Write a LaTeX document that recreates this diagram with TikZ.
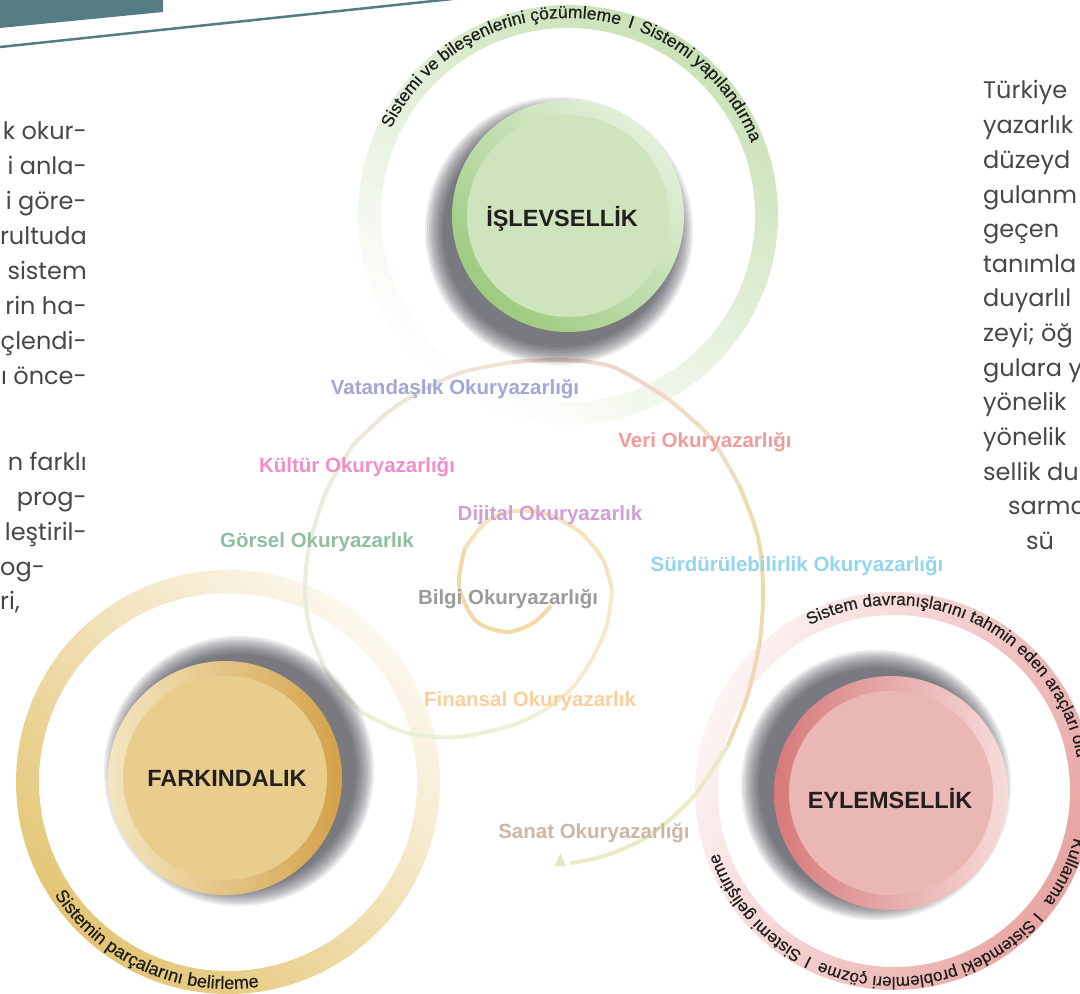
\documentclass[tikz,border=0pt]{standalone}
\usepackage{fontspec}
\setmainfont{Liberation Sans}
\newfontfamily\bodyfont{Poppins}
\newfontfamily\ringfam{Liberation Sans}[FakeBold=0.4]
\usetikzlibrary{decorations.text}

\definecolor{bannerteal}{HTML}{557B84}
\definecolor{bodytext}{HTML}{474747}
\definecolor{ringtext}{HTML}{1E1E1E}
\definecolor{titletext}{HTML}{231F20}
\definecolor{gRingA}{HTML}{C9E1B6}
\definecolor{gRingM}{HTML}{E1EED6}
\definecolor{gRingB}{HTML}{FFFFFF}
\definecolor{yRingA}{HTML}{E4C574}
\definecolor{yRingM}{HTML}{F2E3BC}
\definecolor{yRingB}{HTML}{FCF8EE}
\definecolor{rRingA}{HTML}{E7A3A1}
\definecolor{rRingM}{HTML}{F3D2D0}
\definecolor{rRingB}{HTML}{FDF4F4}
\definecolor{gDiscL}{HTML}{E3F0DA}
\definecolor{gDiscD}{HTML}{9DCA7F}
\definecolor{gDiscIn}{HTML}{CDE4BC}
\definecolor{yDiscL}{HTML}{F4E6C0}
\definecolor{yDiscD}{HTML}{D3A149}
\definecolor{yDiscIn}{HTML}{E8CD8C}
\definecolor{rDiscD}{HTML}{D6797A}
\definecolor{rDiscL}{HTML}{F6DCDA}
\definecolor{rDiscIn}{HTML}{EBB7B4}
\definecolor{shadowc}{HTML}{2A2A36}
\definecolor{cVat}{HTML}{A4A6D5}
\definecolor{cVeri}{HTML}{F39A9A}
\definecolor{cKul}{HTML}{F28DC8}
\definecolor{cDij}{HTML}{D09FD6}
\definecolor{cGor}{HTML}{8FBF9E}
\definecolor{cSur}{HTML}{93D4EE}
\definecolor{cBil}{HTML}{9B9B9B}
\definecolor{cFin}{HTML}{F9CF9B}
\definecolor{cSan}{HTML}{CDB6A6}
\definecolor{spA}{HTML}{F2D9A7}
\definecolor{spB}{HTML}{F6E2BB}
\definecolor{spC}{HTML}{F7E9CC}
\definecolor{spD}{HTML}{EDF0D8}
\definecolor{spE}{HTML}{E7EFDB}
\definecolor{spF}{HTML}{EBE6D6}
\definecolor{spG}{HTML}{EFD6CD}
\definecolor{spH}{HTML}{EFDCC2}
\definecolor{spI}{HTML}{EEDAAE}
\definecolor{spJ}{HTML}{EAE9C8}
\definecolor{arrowc}{HTML}{E2E8C6}

\newcommand{\ringfont}{\ringfam\fontsize{17.5}{17.5}\selectfont}
\newcommand{\ringfontF}{\ringfam\fontsize{18}{18}\selectfont}
\newcommand{\ringfontE}{\ringfam\fontsize{17}{17}\selectfont}
\newcommand{\lblfont}{\fontsize{20.5}{24}\selectfont\bfseries}
\newcommand{\ttlfont}{\fontsize{23.5}{28}\selectfont\bfseries}
\newcommand{\bodyfnt}{\bodyfont\fontsize{24}{28}\selectfont}

\begin{document}
\begin{tikzpicture}[x=1pt, y=-1pt,
  spiralline/.style={line width=4pt, line cap=round, line join=round},
  lbl/.style={font=\lblfont, inner sep=0pt, anchor=base},
  ttl/.style={font=\ttlfont, text=titletext, inner sep=0pt, anchor=base},
  bodyR/.style={font=\bodyfnt, text=bodytext, inner sep=0pt, anchor=base east},
  bodyL/.style={font=\bodyfnt, text=bodytext, inner sep=0pt, anchor=base west},
  ringtxt/.style={decorate, decoration={text along path, text color=ringtext, text={|\ringfont|#1}}},
  ringtxtF/.style={decorate, decoration={text along path, text color=ringtext, text={|\ringfontF|#1}}},
  ringtxtE/.style={decorate, decoration={text along path, text color=ringtext, text={|\ringfontE|#1}}},
]
\useasboundingbox (0,0) rectangle (1080,994);

% centres
\coordinate (cI) at (568,215);
\coordinate (cF) at (228,782);
\coordinate (cE) at (894,791);
\coordinate (dI) at (568,216);
\coordinate (dF) at (225,778);
\coordinate (dE) at (891,793);
\coordinate (sI) at (559,231);
\coordinate (sF) at (239,771);
\coordinate (sE) at (876,785);

% outer rings
\path[even odd rule, top color=gRingA, middle color=gRingM, bottom color=gRingB, shading angle=-35]
  (cI) circle[radius=210] (cI) circle[radius=187];
\path[even odd rule, top color=yRingA, middle color=yRingM, bottom color=yRingB, shading angle=135]
  (cF) circle[radius=212] (cF) circle[radius=189];
\path[even odd rule, top color=rRingA, middle color=rRingM, bottom color=rRingB, shading angle=-115]
  (cE) circle[radius=199] (cE) circle[radius=176];

% spiral
\draw[spiralline, spA] plot[smooth] coordinates {(550,607) (533,623) (507,632) (476,621) (459,586) (465,548)};
\draw[spiralline, spB] plot[smooth] coordinates {(465,548) (487,521) (515,511) (547,514) (580,532) (603,560) (612,590)};
\draw[spiralline, spC] plot[smooth] coordinates {(612,590) (607,625) (593,657) (573,687) (548,708)};
\draw[spiralline, spD] plot[smooth] coordinates {(548,708) (513,725) (457,737) (407,733) (363,713)};
\draw[spiralline, spE] plot[smooth] coordinates {(363,713) (330,677) (310,630) (305,587) (310,543) (327,490) (353,445)};
\draw[spiralline, spF] plot[smooth] coordinates {(353,445) (387,413) (423,390) (463,372) (513,362)};
\draw[spiralline, spG] plot[smooth] coordinates {(513,362) (563,360) (613,367) (667,398)};
\draw[spiralline, spH] plot[smooth] coordinates {(667,398) (710,437) (740,487)};
\draw[spiralline, spI] plot[smooth] coordinates {(740,487) (758,537) (763,587) (760,640) (747,697) (727,747)};
\draw[spiralline, spJ] plot[smooth] coordinates {(727,747) (693,797) (650,835) (607,855) (572,863)};
\fill[arrowc] (555,866) -- (566,866) -- (560.5,853) -- cycle;

% shadows
\foreach \k in {0,2,...,18} {
  \fill[shadowc, opacity=0.095] (sI) circle[radius=116+\k];
  \fill[shadowc, opacity=0.095] (sF) circle[radius=117+\k];
  \fill[shadowc, opacity=0.095] (sE) circle[radius=117+\k];
}

% discs
\path[top color=gDiscL, bottom color=gDiscD, shading angle=-45] (dI) circle[radius=116];
\fill[gDiscIn] (dI) circle[radius=101];
\path[left color=yDiscL, right color=yDiscD] (dF) circle[radius=117];
\fill[yDiscIn] (dF) circle[radius=102];
\path[left color=rDiscD, right color=rDiscL] (dE) circle[radius=117];
\fill[rDiscIn] (dE) circle[radius=102];

% titles
\node[ttl] (tIslev) at (562,226) {İŞLEVSELLİK};
\node[ttl] (tFark) at (227,786) {FARKINDALIK};
\node[ttl] (tEylem) at (890,808) {EYLEMSELLİK};

% ring texts
\path[ringtxt={Sistemi ve bileşenlerini çözümleme}] (cI) ++(-154:197) arc[start angle=-154, end angle=-60, radius=197];
\path[ringtxt={I}] (cI) ++(-72.5:197) arc[start angle=-72.5, end angle=-63, radius=197];
\path[ringtxt={Sistemi yapılandırma}] (cI) ++(-69:197) arc[start angle=-69, end angle=-10, radius=197];

\path[ringtxtF={Sistemin parçalarını belirleme}] (cF) ++(-213:207) arc[start angle=-213, end angle=-300, radius=207];

\path[ringtxtE={Sistem davranışlarını tahmin eden araçları olu}] (cE) ++(-117:186) arc[start angle=-117, end angle=20, radius=186];
\path[ringtxtE={Kullanma}] (cE) ++(14.5:186) arc[start angle=14.5, end angle=60, radius=186];
\path[ringtxtE={I}] (cE) ++(40.5:186) arc[start angle=40.5, end angle=50, radius=186];
\path[ringtxtE={Sistemdeki problemleri çözme}] (cE) ++(43.5:186) arc[start angle=43.5, end angle=130, radius=186];
\path[ringtxtE={I}] (cE) ++(116:186) arc[start angle=116, end angle=125, radius=186];
\path[ringtxtE={Sistemi geliştirme}] (cE) ++(119.5:186) arc[start angle=119.5, end angle=175, radius=186];

% literacy labels
\node[lbl, text=cVat] (lVat) at (455,394) {Vatandaşlık Okuryazarlığı};
\node[lbl, text=cVeri] (lVeri) at (705,447) {Veri Okuryazarlığı};
\node[lbl, text=cKul] (lKul) at (357,472) {Kültür Okuryazarlığı};
\node[lbl, text=cDij] (lDij) at (550,520) {Dijital Okuryazarlık};
\node[lbl, text=cGor] (lGor) at (317,547) {Görsel Okuryazarlık};
\node[lbl, text=cSur] (lSur) at (797,571) {Sürdürülebilirlik Okuryazarlığı};
\node[lbl, text=cBil] (lBil) at (508,604) {Bilgi Okuryazarlığı};
\node[lbl, text=cFin] (lFin) at (530,706) {Finansal Okuryazarlık};
\node[lbl, text=cSan] (lSan) at (594,838) {Sanat Okuryazarlığı};

% banner
\fill[bannerteal] (0,0) -- (163,0) -- (163,12) -- (0,28) -- cycle;
\draw[bannerteal, line width=2.5pt] (0,47) -- (452,-1);

% body text, left column
\node[bodyR] (bl1) at (87,139) {k okur-};
\node[bodyR] (bl2) at (87,174) {i anla-};
\node[bodyR] (bl3) at (87,209) {i göre-};
\node[bodyR] (bl4) at (87,244) {rultuda};
\node[bodyR] (bl5) at (87,279) {sistem};
\node[bodyR] (bl6) at (87,314) {rin ha-};
\node[bodyR] (bl7) at (87,349) {çlendi-};
\node[bodyR] (bl8) at (87,384) {ı önce-};
\node[bodyR] (bl9) at (87,470) {n farklı};
\node[bodyR] (bl10) at (87,505) {prog-};
\node[bodyR] (bl11) at (87,540) {leştiril-};
\node[bodyL] (bl12) at (0,575) {og-};
\node[bodyL] (bl13) at (0,609) {ri,};

% body text, right column
\node[bodyL] (br1) at (983,98) {Türkiye};
\node[bodyL] (br2) at (983,133) {yazarlık};
\node[bodyL] (br3) at (983,168) {düzeyd};
\node[bodyL] (br4) at (983,203) {gulanm};
\node[bodyL] (br5) at (983,237) {geçen};
\node[bodyL] (br6) at (983,272) {tanımla};
\node[bodyL] (br7) at (983,306) {duyarlıl};
\node[bodyL] (br8) at (983,341) {zeyi; öğ};
\node[bodyL] (br9) at (983,376) {gulara y};
\node[bodyL] (br10) at (983,410) {yönelik};
\node[bodyL] (br11) at (983,445) {yönelik};
\node[bodyL] (br12) at (983,480) {sellik du};
\node[bodyL] (br13) at (1008,514) {sarma};
\node[bodyL] (br14) at (1026,549) {sü};
\end{tikzpicture}
\end{document}
